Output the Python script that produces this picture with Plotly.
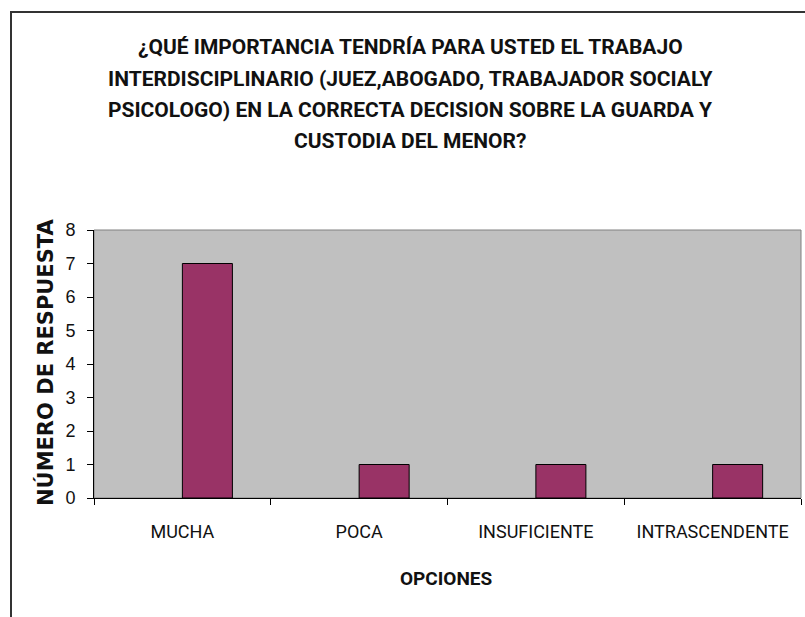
import plotly.graph_objects as go

categories = ["MUCHA", "POCA", "INSUFICIENTE", "INTRASCENDENTE"]
respuestas = [7, 1, 1, 1]
y_ticks = [0, 1, 2, 3, 4, 5, 6, 7, 8]

title_lines = [
    "¿QUÉ IMPORTANCIA TENDRÍA PARA USTED EL TRABAJO",
    "INTERDISCIPLINARIO (JUEZ,ABOGADO, TRABAJADOR SOCIALY",
    "PSICOLOGO) EN LA CORRECTA DECISION SOBRE LA GUARDA Y",
    "CUSTODIA DEL MENOR?",
]
x_title = "OPCIONES"
y_title = "NÚMERO DE RESPUESTA"

W, H = 805, 617
L, R, T, B = 94, 4, 230, 119
pw, ph = W - L - R, H - T - B

def px_x(x):
    return (x - L) / pw

def px_y(y):
    return (H - B - y) / ph

fig = go.Figure()
fig.add_trace(go.Bar(
    x=categories, y=respuestas,
    offset=0, width=0.283,
    marker=dict(color="#993366", line=dict(color="#000000", width=1)),
    hoverinfo="skip",
))

annotations = []
for i, line in enumerate(title_lines):
    annotations.append(dict(
        text=line, xref="paper", yref="paper",
        x=px_x(410), y=px_y(47 + i * 31.5),
        xanchor="center", yanchor="middle", showarrow=False,
        font=dict(family="Roboto, sans-serif", size=21, weight=700, color="#111111"),
    ))
annotations.append(dict(
    text=x_title, xref="paper", yref="paper",
    x=px_x(446), y=px_y(578), xanchor="center", yanchor="middle", showarrow=False,
    font=dict(family="Roboto, sans-serif", size=19, weight=700, color="#111111"),
))
annotations.append(dict(
    text=y_title, xref="paper", yref="paper",
    x=px_x(45), y=px_y(362), xanchor="center", yanchor="middle", showarrow=False,
    textangle=-90,
    font=dict(family="DejaVu Sans, sans-serif", size=21, weight=700, color="#111111"),
))

fig.update_layout(
    width=W, height=H,
    margin=dict(l=L, r=R, t=T, b=B),
    paper_bgcolor="white",
    plot_bgcolor="#C0C0C0",
    showlegend=False,
    hovermode=False,
    xaxis=dict(
        type="category",
        showline=True, linecolor="#000000", linewidth=1,
        ticks="outside", tickson="boundaries", ticklen=6, tickcolor="#000000",
        tickfont=dict(family="Roboto, sans-serif", size=18, color="#111111"),
        ticklabelstandoff=17,
        showgrid=False, zeroline=False, fixedrange=True,
    ),
    yaxis=dict(
        range=[0, 8], tickvals=y_ticks,
        showline=True, linecolor="#000000", linewidth=1,
        ticks="outside", ticklen=6, tickcolor="#000000",
        tickfont=dict(family="Liberation Sans, Arial, sans-serif", size=18, color="#111111"),
        ticklabelstandoff=8,
        showgrid=False, zeroline=False, fixedrange=True,
    ),
    annotations=annotations,
    shapes=[
        dict(type="rect", xref="paper", yref="paper", x0=0, x1=1, y0=0, y1=1,
             line=dict(color="#808080", width=1), fillcolor="rgba(0,0,0,0)", layer="below"),
        dict(type="rect", xref="paper", yref="paper",
             x0=px_x(11), x1=px_x(810), y0=px_y(622), y1=px_y(12),
             line=dict(color="#333333", width=2), fillcolor="rgba(0,0,0,0)"),
    ],
)

fig.write_html("out.html", config={"displayModeBar": False},
               post_script="document.body.style.margin='0px';")
